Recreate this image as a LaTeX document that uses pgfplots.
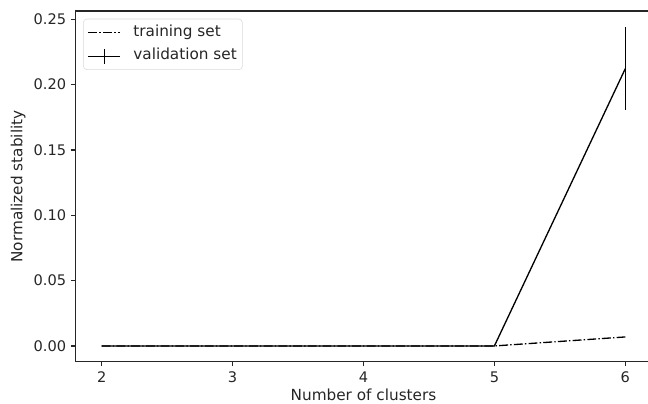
\documentclass[border=0pt]{standalone}
\usepackage{pgfplots}
\pgfplotsset{compat=1.18}
\usepackage{fontspec}
\setmainfont{DejaVu Sans}
\definecolor{txt}{HTML}{262626}
\pgfplotsset{
  linelegend/.style={legend image code/.code={\draw[##1] (0pt,0pt) -- (23pt,0pt);}},
  errlegend/.style={legend image code/.code={\draw[##1] (0pt,0pt) -- (23pt,0pt); \draw[##1] (11.5pt,-5.4pt) -- (11.5pt,5.4pt);}},
}
\begin{document}
\begin{tikzpicture}
\begin{axis}[
  name=ax,
  scale only axis,
  width=414.7pt, height=252.7pt,
  xmin=1.8, xmax=6.2,
  ymin=-0.01221, ymax=0.25641,
  xtick={2,3,4,5,6},
  ytick={0,0.05,0.10,0.15,0.20,0.25},
  tick pos=left,
  tick align=outside,
  major tick length=3.3pt,
  tick style={txt, line width=0.8pt},
  axis line style={txt, line width=0.8pt},
  /pgf/number format/assume math mode=true,
  yticklabel style={/pgf/number format/.cd, fixed, fixed zerofill, precision=2},
  ticklabel style={font=\fontsize{10.5}{12}\selectfont, text=txt},
  label style={font=\fontsize{11}{13}\selectfont, text=txt},
  xlabel={Number of clusters},
  ylabel={Normalized stability},
  xlabel style={yshift=2pt},
  ylabel style={yshift=-1pt},
  legend style={at={(rel axis cs:0,1)}, anchor=north west, xshift=5.5pt, yshift=-5.6pt,
    draw=gray!30, rounded corners=2.5pt, fill=white, fill opacity=0.8, text opacity=1,
    font=\fontsize{11}{13}\selectfont, text=txt, inner xsep=3pt, inner ysep=3.5pt, row sep=4.5pt,
    nodes={inner sep=1pt, text height=8pt, text depth=2.5pt},
    /tikz/every odd column/.append style={column sep=8pt}},
  legend cell align=left,
]
\addplot[black, line width=0.95pt, dash pattern=on 6.4pt off 1.6pt on 1pt off 1.6pt, linelegend] coordinates {
  (2,0) (3,0) (4,0) (5,0) (6,0.0069)
};
\addlegendentry{training set}
\addplot[black, line width=0.95pt, errlegend,
  error bars/.cd, y dir=both, y explicit, error mark=none,
  error bar style={line width=0.95pt, solid},
] coordinates {
  (2,0) +- (0,0)
  (3,0) +- (0,0)
  (4,0) +- (0,0)
  (5,0) +- (0,0)
  (6,0.2122) +- (0,0.0318)
};
\addlegendentry{validation set}
\end{axis}
\pgfresetboundingbox
\path[use as bounding box] ([xshift=-54.4pt,yshift=-30.2pt]ax.south west) rectangle ([xshift=412.2pt,yshift=7.9pt]ax.north west);
\end{tikzpicture}
\end{document}
